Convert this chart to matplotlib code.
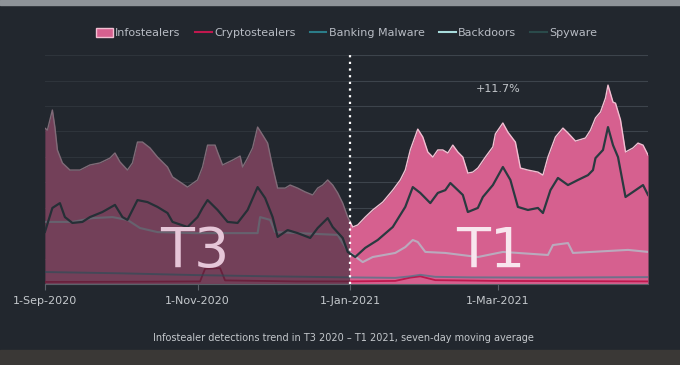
import matplotlib
matplotlib.use("Agg")
import matplotlib.pyplot as plt
import matplotlib.patches as mpatches
from matplotlib.lines import Line2D
import pandas as pd

# days counted from 1-Sep-2020 (no y scale shown)
info_days = [0, 1, 3, 4, 5, 7, 10, 14, 18, 22, 26, 28, 30, 33, 35, 37, 39, 42, 45, 49,
             51, 54, 57, 61, 63, 65, 68, 69, 71, 75, 78, 79, 81, 83, 85, 87, 89, 91, 93, 96,
             98, 101, 104, 107, 109, 111, 113, 115, 117, 119, 121, 123, 125, 128, 131, 135, 139, 142, 144, 146,
             149, 151, 153, 155, 157, 159, 161, 163, 165, 167, 169, 171, 173, 176, 179, 180, 183, 185, 188, 190,
             193, 197, 199, 201, 204, 207, 209, 212, 216, 218, 220, 222, 224, 225, 227, 228, 230, 232, 235, 237,
             239, 241]
info_vals = [6.13, 6.05, 6.84, 6.17, 5.27, 4.76, 4.48, 4.48, 4.68, 4.76, 4.95, 5.15, 4.80, 4.48, 4.76, 5.58, 5.58, 5.35, 4.99, 4.60,
             4.21, 4.01, 3.81, 4.09, 4.60, 5.46, 5.46, 5.19, 4.68, 4.87, 5.03, 4.60, 4.95, 5.35, 6.17, 5.86, 5.54, 4.60, 3.77, 3.77,
             3.89, 3.77, 3.62, 3.50, 3.77, 3.89, 4.09, 3.89, 3.58, 3.18, 2.63, 2.24, 2.32, 2.63, 2.91, 3.22, 3.69, 4.09, 4.48, 5.27,
             6.09, 5.78, 5.19, 4.99, 5.27, 5.27, 5.15, 5.46, 5.19, 4.99, 4.36, 4.40, 4.56, 4.99, 5.39, 5.90, 6.33, 5.97, 5.58, 4.56,
             4.48, 4.40, 4.28, 4.99, 5.78, 6.13, 5.94, 5.62, 5.74, 6.05, 6.53, 6.76, 7.31, 7.82, 7.15, 7.11, 6.45, 5.19, 5.35, 5.54,
             5.46, 5.07]

spy_days = [0, 3, 6, 8, 11, 15, 18, 23, 28, 31, 33, 37, 41, 45, 49, 51, 57, 61, 63, 65,
            69, 73, 77, 81, 85, 88, 91, 93, 97, 101, 106, 109, 113, 115, 119, 121, 124, 128, 133, 139,
            144, 147, 150, 154, 157, 160, 162, 165, 167, 169, 173, 175, 179, 183, 186, 189, 193, 197, 199, 202,
            205, 209, 213, 217, 219, 220, 223, 225, 227, 229, 232, 235, 239, 241]
spy_vals = [2.04, 2.99, 3.18, 2.63, 2.40, 2.44, 2.63, 2.83, 3.11, 2.63, 2.52, 3.30, 3.22, 3.03, 2.79, 2.44, 2.24, 2.63, 2.99, 3.30,
            2.91, 2.44, 2.40, 2.91, 3.81, 3.38, 2.63, 1.85, 2.12, 2.00, 1.81, 2.20, 2.59, 2.24, 1.81, 1.26, 1.06, 1.42, 1.73, 2.24,
            3.03, 3.81, 3.58, 3.18, 3.58, 3.69, 3.97, 3.69, 3.50, 2.83, 2.99, 3.42, 3.89, 4.60, 4.09, 3.03, 2.91, 2.99, 2.79, 3.69,
            4.17, 3.89, 4.09, 4.28, 4.48, 4.95, 5.27, 6.17, 5.46, 4.99, 3.42, 3.62, 3.89, 3.50]

back_days = [0, 11, 19, 27, 33, 38, 45, 60, 85, 86, 90, 92, 117, 121, 127, 131, 140, 144, 147, 149,
             152, 160, 173, 183, 201, 203, 209, 211, 233, 241]
back_vals = [2.44, 2.44, 2.59, 2.63, 2.52, 2.20, 2.04, 2.00, 2.00, 2.63, 2.52, 2.04, 1.93, 1.30, 0.86, 1.06, 1.22, 1.45, 1.73, 1.65,
             1.26, 1.22, 1.06, 1.26, 1.14, 1.53, 1.61, 1.22, 1.34, 1.26]

bank_days = [0, 30, 60, 90, 121, 140, 146, 150, 156, 170, 200, 241]
bank_vals = [0.47, 0.42, 0.35, 0.30, 0.26, 0.24, 0.30, 0.36, 0.28, 0.26, 0.25, 0.27]

crypto_days = [0, 40, 62, 64, 70, 72, 100, 121, 140, 146, 150, 156, 180, 241]
crypto_vals = [0.08, 0.09, 0.10, 0.60, 0.62, 0.14, 0.10, 0.10, 0.12, 0.25, 0.30, 0.15, 0.12, 0.10]

tick_dates = ["2020-09-01", "2020-11-01", "2021-01-01", "2021-03-01"]
tick_labels = ["1-Sep-2020", "1-Nov-2020", "1-Jan-2021", "1-Mar-2021"]
start = pd.Timestamp("2020-09-01")
split = pd.Timestamp("2021-01-01")
end = pd.Timestamp("2021-04-30")
caption = "Infostealer detections trend in T3 2020 \u2013 T1 2021, seven-day moving average"


def to_dates(days):
    return start + pd.to_timedelta(days, unit="D")


bg = "#22272e"
fig = plt.figure(figsize=(6.8, 3.65), dpi=100)
fig.patch.set_facecolor(bg)

# bits of the photo around the screen
fig.add_artist(mpatches.Rectangle((0, 0.985), 1, 0.015, transform=fig.transFigure, color="#8e9398", zorder=0))
fig.add_artist(mpatches.Rectangle((0, 0), 1, 0.04, transform=fig.transFigure, color="#3a3836", zorder=0))

ax = fig.add_axes([0.066, 0.222, 0.887, 0.627])
ax.set_facecolor(bg)

pink = "#d6608f"
ax.fill_between(to_dates(info_days), 0, info_vals, color=pink, lw=0, zorder=1)
ax.plot(to_dates(info_days), info_vals, color="#f2bfd2", lw=1.0, zorder=2)
ax.plot(to_dates(crypto_days), crypto_vals, color="#c0184e", lw=1.3, zorder=3)
ax.plot(to_dates(bank_days), bank_vals, color="#2b7c88", alpha=0.6, lw=1.4, zorder=3)
ax.plot(to_dates(back_days), back_vals, color="#a8dcdc", alpha=0.6, lw=1.5, zorder=3)
ax.plot(to_dates(spy_days), spy_vals, color="#2a3a40", lw=1.6, zorder=3)

# the T3 half is dimmed
ax.axvspan(start, split, color=bg, alpha=0.55, lw=0, zorder=4)
ax.axvline(split, color="white", ls=(0, (1, 2)), lw=1.6, zorder=6)

ax.text(to_dates(60), 1.26, "T3", color="#e6c6d8", fontsize=40, ha="center", va="center", zorder=5)
ax.text(to_dates(178), 1.26, "T1", color="#f8e6ee", fontsize=40, ha="center", va="center", zorder=5)
ax.text(to_dates(181), 7.67, "+11.7%", color="#c4c8cc", fontsize=8, ha="center", va="center", zorder=5)

ax.set_xlim(start, end)
ax.set_ylim(0, 9)
ax.set_yticks(range(0, 10))
ax.set_yticklabels([])
ax.grid(axis="y", color="#3d444c", lw=0.8, zorder=0)
ax.set_axisbelow(True)
ax.tick_params(axis="y", length=0)
ax.set_xticks(pd.to_datetime(tick_dates))
ax.set_xticklabels(tick_labels)
ax.tick_params(axis="x", colors="#5a6068", labelcolor="#c4c8cc", labelsize=8, length=4, pad=5)
for side in ["top", "right", "left"]:
    ax.spines[side].set_visible(False)
ax.spines["bottom"].set_color("#5a6068")

handles = [
    mpatches.Patch(facecolor=pink, edgecolor="#f2bfd2", label="Infostealers"),
    Line2D([], [], color="#c0184e", lw=1.5, label="Cryptostealers"),
    Line2D([], [], color="#2b7c88", lw=1.5, label="Banking Malware"),
    Line2D([], [], color="#a8dcdc", lw=1.5, label="Backdoors"),
    Line2D([], [], color="#2a4a4a", lw=1.5, label="Spyware"),
]
fig.legend(handles=handles, loc="center", bbox_to_anchor=(0.51, 0.91), ncol=5, frameon=False,
           fontsize=8, labelcolor="#b8bcc4", handlelength=1.5, handleheight=0.9, handletextpad=0.2,
           columnspacing=1.3)

fig.text(0.505, 0.074, caption, color="#c4c8cc", fontsize=7, ha="center", va="center")

fig.savefig("out.png", dpi=100, facecolor=bg)
